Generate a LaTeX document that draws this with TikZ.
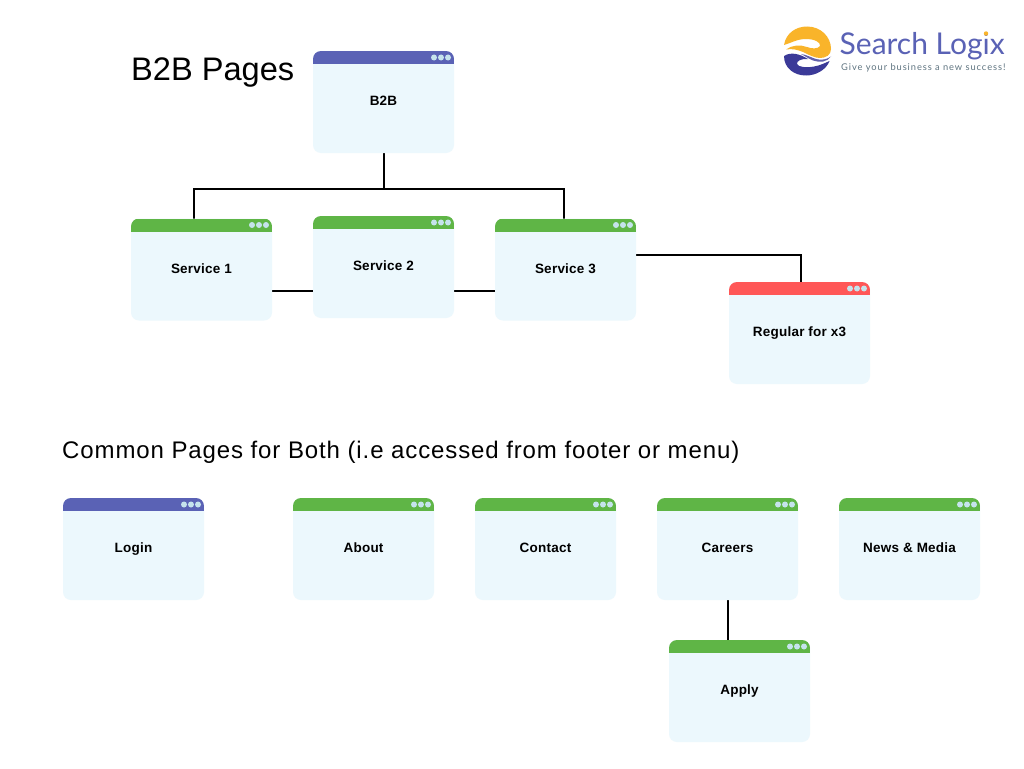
\documentclass[tikz,border=0pt]{standalone}
\usepackage{fontspec}
\setmainfont{Liberation Sans}
\newfontfamily\bigtitlefont{Liberation Sans}
\newfontfamily\titlefont[LetterSpace=3.7]{Liberation Sans}
\newfontfamily\labelfont[LetterSpace=1.8]{Liberation Sans}
\newfontfamily\logofont{Lato}
\newfontfamily\tagfont[LetterSpace=10]{Lato}
\definecolor{bodyc}{HTML}{ECF8FD}
\definecolor{purplec}{HTML}{5A62B5}
\definecolor{greenc}{HTML}{5FB546}
\definecolor{redc}{HTML}{FF5757}
\definecolor{dotc}{HTML}{C5E3EC}
\definecolor{orangec}{HTML}{F9B42A}
\definecolor{navyc}{HTML}{3B3A98}
\definecolor{taglinec}{HTML}{5F7480}
\tikzset{
  wire/.style={draw=black,line width=2pt},
  pagebox/.style={minimum width=141pt,minimum height=102pt,inner sep=0pt,outer sep=0pt,
    text height=10.8pt,text depth=3pt,
    fill=bodyc,rounded corners=8pt,font=\labelfont\bfseries\fontsize{13.5}{16}\selectfont,text=black},
  heading/.style={anchor=west,inner sep=0pt,text=black}
}
% \pagewin{name}{left}{top}{colour}{text}
\newcommand{\pagewin}[5]{%
  \node[pagebox] (#1) at (#2+70.5,#3+51) {#5};
  \begin{scope}
    \clip[rounded corners=8pt] (#2,#3) rectangle ++(141,102);
    \fill[#4] (#2,#3) rectangle ++(141,13);
  \end{scope}
  \foreach \dx in {121,128,135} \fill[dotc] (#2+\dx,#3+6.5) circle (3);
}
\begin{document}
\begin{tikzpicture}[x=1pt,y=-1pt]
\useasboundingbox (0,0) rectangle (1024,768);
\fill[white] (0,0) rectangle (1024,768);
\coordinate (hubtop) at (384,189);
\coordinate (hubl) at (193.5,189);
\coordinate (hubr) at (563.5,189);
\coordinate (cornerR) at (801,255);

\node[heading,font=\bigtitlefont\fontsize{32.6}{38}\selectfont] (title1) at (131,72.5) {B2B Pages};
\node[heading,font=\titlefont\fontsize{24}{28}\selectfont] (title2) at (62,452.5) {Common Pages for Both (i.e accessed from footer or menu)};

\coordinate (b2bbot) at (384,153);
\coordinate (s1tie) at (193.5,232);
\coordinate (s3tie) at (563.5,232);
\coordinate (s1r) at (272,290.5);
\coordinate (s2l) at (313,290.5);
\coordinate (s2r) at (454,290.5);
\coordinate (s3l) at (495,290.5);
\coordinate (s3out) at (636,255);
\coordinate (regtop) at (801,282);
\coordinate (carbot) at (727.5,600);
\coordinate (apptop) at (727.5,640);
\draw[wire] (b2bbot) -- (hubtop);
\draw[wire] (s1tie) -- (hubl) -- (hubr) -- (s3tie);
\draw[wire] (s1r) -- (s2l);
\draw[wire] (s2r) -- (s3l);
\draw[wire] (s3out) -- (cornerR) -- (regtop);
\draw[wire] (carbot) -- (apptop);

\pagewin{b2b}{313}{51}{purplec}{B2B}
\pagewin{s1}{131}{218.5}{greenc}{Service 1}
\pagewin{s2}{313}{216}{greenc}{Service 2}
\pagewin{s3}{495}{218.5}{greenc}{Service 3}
\pagewin{reg}{729}{282}{redc}{Regular for x3}
\pagewin{login}{63}{498}{purplec}{Login}
\pagewin{about}{293}{498}{greenc}{About}
\pagewin{contact}{475}{498}{greenc}{Contact}
\pagewin{careers}{657}{498}{greenc}{Careers}
\pagewin{news}{839}{498}{greenc}{News \& Media}
\pagewin{apply}{669}{640}{greenc}{Apply}

% logo: upper orange swirl
\fill[orangec] (784,45) .. controls (786,33) and (796,26.5) .. (807,26.5)
  .. controls (821,26.5) and (831,37) .. (831,49)
  .. controls (831,55) and (826,58) .. (820,58)
  .. controls (815,58) and (809,55) .. (803,52)
  .. controls (797,49.5) and (792,48.5) .. (786,49.5)
  .. controls (792,45) and (800,44.5) .. (807,47)
  .. controls (812,49) and (818,49) .. (820,46)
  .. controls (821,42) and (814,39) .. (806,39)
  .. controls (797,39) and (791,43) .. (784,45) -- cycle;
% logo: middle line
\fill[navyc!80!white] (801,54) .. controls (806,54.5) and (811,57.5) .. (816,59)
  .. controls (821,60.5) and (827,59.5) .. (831,56.5)
  .. controls (827,62) and (820,63) .. (813,60.5)
  .. controls (809,59) and (805,56) .. (801,54) -- cycle;
% logo: lower navy swirl
\fill[navyc] (784,56) .. controls (791,51.5) and (800,54) .. (808,59)
  .. controls (801,58.5) and (796.5,61) .. (797,64)
  .. controls (798,67) and (806,68) .. (814,66.5)
  .. controls (820,65.5) and (825,63) .. (829.5,61)
  .. controls (826,70) and (816,75.5) .. (806,75.5)
  .. controls (794,75.5) and (784,68) .. (784,56) -- cycle;
\node[anchor=west,inner sep=0pt,text=purplec,font=\logofont\fontsize{30}{34}\selectfont] (logotext) at (839.5,46) {Search Logix};
\fill[orangec] (986,33.5) circle (2.2);
\node[anchor=west,inner sep=0pt,text=taglinec,font=\tagfont\fontsize{9.3}{10}\selectfont] (logotag) at (841,68) {Give your business a new success!};
\end{tikzpicture}
\end{document}
